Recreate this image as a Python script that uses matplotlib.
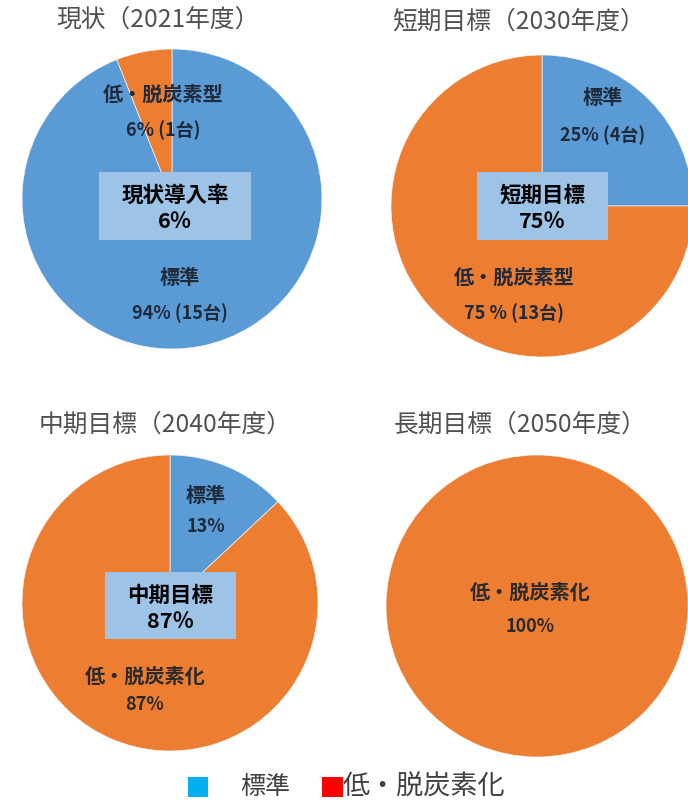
import matplotlib
matplotlib.use("Agg")
import matplotlib.pyplot as plt
from matplotlib.patches import Rectangle

plt.rcParams['font.family'] = ['Noto Sans CJK JP', 'DejaVu Sans']

# ---- data ----
titles = ["現状（2021年度）", "短期目標（2030年度）", "中期目標（2040年度）", "長期目標（2050年度）"]
standard_share = [94, 25, 13, 0]
lowcarbon_share = [6, 75, 87, 100]
standard_name = ["標準", "標準", "標準", ""]
standard_pct = ["94% (15台)", "25% (4台)", "13%", ""]
lowcarbon_name = ["低・脱炭素型", "低・脱炭素型", "低・脱炭素化", "低・脱炭素化"]
lowcarbon_pct = ["6% (1台)", "75 % (13台)", "87%", "100%"]
box_title = ["現状導入率", "短期目標", "中期目標", None]
box_value = ["6％", "75％", "87％", None]
legend_labels = ["標準", "低・脱炭素化"]

BLUE = "#5B9BD5"
ORANGE = "#ED7D31"
BOX = "#9DC3E6"
TITLE_C = "#505050"
LABEL_C = "#1F2A3A"

W, H = 688, 801
fig = plt.figure(figsize=(W / 100, H / 100), dpi=100)
ax = fig.add_axes([0, 0, 1, 1])
ax.set_xlim(0, W)
ax.set_ylim(0, H)
ax.set_aspect('equal')
ax.axis('off')

def Y(y):
    return H - y

# layout (pixel positions)
centers = [(172, 199), (542, 206), (170, 603), (537, 606)]
radii = [150, 151, 148, 151]
title_pos = [(158, 20), (519, 22), (165, 425), (520, 425)]
std_label_pos = [(180, 277, 313), (603, 98, 135), (206, 495, 526), None]
low_label_pos = [(163, 94, 130), (514, 277, 313), (145, 676, 704), (530, 592, 627)]
box_rect = [(99, 172, 251, 240), (477, 172, 608, 240), (105, 572, 236, 639), None]

for i in range(4):
    cx, cy = centers[i]
    vals = [standard_share[i], lowcarbon_share[i]]
    cols = [BLUE, ORANGE]
    vv = [v for v in vals if v > 0]
    cc = [c for v, c in zip(vals, cols) if v > 0]
    ax.pie(vv, colors=cc, startangle=90, counterclock=False,
           center=(cx, Y(cy)), radius=radii[i],
           wedgeprops=dict(edgecolor='#f4f4f4', linewidth=0.5), frame=True)
    tx, ty = title_pos[i]
    ax.text(tx, Y(ty), titles[i], ha='center', va='center', fontsize=17.8, color=TITLE_C)

    if std_label_pos[i] is not None:
        x, y1, y2 = std_label_pos[i]
        ax.text(x, Y(y1), standard_name[i], ha='center', va='center', fontsize=14.5,
                fontweight='bold', color=LABEL_C)
        ax.text(x, Y(y2), standard_pct[i], ha='center', va='center', fontsize=13,
                fontweight='bold', color=LABEL_C)
    x, y1, y2 = low_label_pos[i]
    ax.text(x, Y(y1), lowcarbon_name[i], ha='center', va='center', fontsize=14.5,
            fontweight='bold', color=LABEL_C if i < 2 else "#2a2a2a")
    ax.text(x, Y(y2), lowcarbon_pct[i], ha='center', va='center', fontsize=13,
            fontweight='bold', color=LABEL_C if i < 2 else "#2a2a2a")

    if box_rect[i] is not None:
        x0, y0, x1, y1b = box_rect[i]
        ax.add_patch(Rectangle((x0, Y(y1b)), x1 - x0, y1b - y0, facecolor=BOX,
                               edgecolor='none', zorder=5))
        bx = (x0 + x1) / 2
        ax.text(bx, Y(y0 + 23), box_title[i], ha='center', va='center', fontsize=15.5,
                fontweight='bold', color='black', zorder=6)
        ax.text(bx, Y(y0 + 50), box_value[i], ha='center', va='center', fontsize=15.5,
                fontweight='bold', color='black', zorder=6)

ax.set_xlim(0, W)
ax.set_ylim(0, H)
ax.axis('off')

# legend
ax.add_patch(Rectangle((188, Y(797)), 20, 20, facecolor="#00B0F0", edgecolor='none'))
ax.text(240, Y(787), legend_labels[0], ha='left', va='center', fontsize=18, color="#404040")
ax.add_patch(Rectangle((322, Y(797)), 21, 20, facecolor="#FF0000", edgecolor='none'))
ax.text(343, Y(787), legend_labels[1], ha='left', va='center', fontsize=19.5, color="#404040")

fig.savefig("out.png", dpi=100, facecolor='white')
